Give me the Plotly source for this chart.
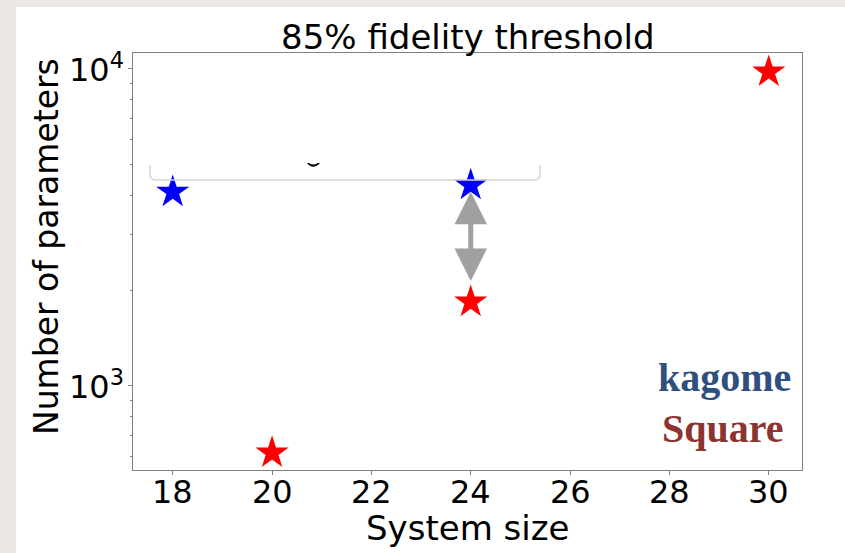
import plotly.graph_objects as go
import math

# ---- data ----
kagome_sizes = [18, 24]
kagome_params = [4090, 4300]
square_sizes = [20, 24, 30]
square_params = [615, 1840, 9790]
arrow_x = 24
arrow_top = 4100
arrow_bottom = 2120
x_ticks = [18, 20, 22, 24, 26, 28, 30]
y_ticks = [1000, 10000]
y_ticktext = ["10<sup>3</sup>", "10<sup>4</sup>"]
y_minor = [600, 700, 800, 900, 2000, 3000, 4000, 5000, 6000, 7000, 8000, 9000]

W, H = 845, 553
L, R, T, B = 133, 802, 53, 470
FS = 34
TFS = 32


def px(x):
    return (x - L) / (R - L)


def py(y):
    return (B - y) / (B - T)


fig = go.Figure()
fig.add_trace(go.Scatter(x=kagome_sizes, y=kagome_params, mode="markers",
                         marker=dict(symbol="star", size=25, color="#0000ff", line=dict(width=0)),
                         showlegend=False))
fig.add_trace(go.Scatter(x=square_sizes, y=square_params, mode="markers",
                         marker=dict(symbol="star", size=25, color="#ff0000", line=dict(width=0)),
                         showlegend=False))

shapes = []
# inner panel
shapes.append(dict(type="rect", xref="paper", yref="paper", x0=px(16), x1=px(900),
                   y0=py(600), y1=py(7), fillcolor="#ffffff", line=dict(width=0), layer="below"))
# partial legend frame
r = 6
path = (f"M{px(150)},{py(165)} L{px(150)},{py(180 - r)} "
        f"Q{px(150)},{py(180)} {px(150 + r)},{py(180)} "
        f"L{px(540 - r)},{py(180)} Q{px(540)},{py(180)} {px(540)},{py(180 - r)} "
        f"L{px(540)},{py(165)}")
shapes.append(dict(type="path", xref="paper", yref="paper", path=path,
                   line=dict(color="#d6d6d6", width=1.5)))
# glyph fragment (bottom of a cut-off letter)
frag = (f"M{px(307)},{py(163)} Q{px(313)},{py(170.5)} {px(320)},{py(163)} "
        f"L{px(318)},{py(163)} Q{px(313)},{py(166)} {px(309)},{py(163)} Z")
shapes.append(dict(type="path", xref="paper", yref="paper", path=frag,
                   fillcolor="#000000", line=dict(width=0)))

annotations = []
# double arrow
annotations.append(dict(x=arrow_x, y=math.log10(arrow_top), xref="x", yref="y",
                        ax=arrow_x, ay=math.log10(arrow_bottom), axref="x", ayref="y",
                        text="", showarrow=True, arrowside="end+start",
                        arrowhead=2, startarrowhead=2, arrowsize=1.3, startarrowsize=1.3,
                        arrowwidth=5, arrowcolor="#a0a0a0"))
# x tick labels
for v in x_ticks:
    annotations.append(dict(text=str(v), x=v, y=py(492), xref="x", yref="paper",
                            showarrow=False, font=dict(family="DejaVu Sans", size=TFS, color="#000000"),
                            xanchor="center", yanchor="middle"))
# y tick labels
for v, t in zip(y_ticks, y_ticktext):
    annotations.append(dict(text=t, x=px(126), y=math.log10(v), xref="paper", yref="y",
                            showarrow=False, font=dict(family="DejaVu Sans", size=TFS, color="#000000"),
                            xanchor="right", yanchor="middle", yshift=1))
annotations.append(dict(text="85% fidelity threshold", x=0.5, y=py(37), xref="paper", yref="paper",
                        showarrow=False, font=dict(family="DejaVu Sans", size=FS, color="#000000"),
                        xanchor="center", yanchor="middle"))
annotations.append(dict(text="Number of parameters", x=px(46), y=py(247), xref="paper", yref="paper",
                        showarrow=False, textangle=-90,
                        font=dict(family="DejaVu Sans", size=33, color="#000000"),
                        xanchor="center", yanchor="middle"))
annotations.append(dict(text="System size", x=0.5, y=py(528), xref="paper", yref="paper",
                        showarrow=False, font=dict(family="DejaVu Sans", size=FS, color="#000000"),
                        xanchor="center", yanchor="middle"))
annotations.append(dict(text="<b>kagome</b>", x=px(793), y=py(377), xref="paper", yref="paper",
                        showarrow=False, font=dict(family="Liberation Serif", size=40, color="#2f4f7f"),
                        xanchor="right", yanchor="middle"))
annotations.append(dict(text="<b>Square</b>", x=px(786), y=py(428), xref="paper", yref="paper",
                        showarrow=False, font=dict(family="Liberation Serif", size=40, color="#8c3530"),
                        xanchor="right", yanchor="middle"))

fig.update_layout(
    width=W, height=H,
    margin=dict(l=L, r=W - R, t=T, b=H - B),
    paper_bgcolor="#ebe8e3",
    plot_bgcolor="#ffffff",
    shapes=shapes,
    annotations=annotations,
    font=dict(family="DejaVu Sans", size=TFS, color="#000000"),
    xaxis=dict(range=[17.2, 30.67], tickvals=x_ticks, ticks="outside", ticklen=4,
               tickcolor="#808080", showline=True, linecolor="#808080", linewidth=1,
               mirror=True, showgrid=False, zeroline=False, showticklabels=False),
    yaxis=dict(type="log", range=[math.log10(543), math.log10(11230)], tickvals=y_ticks,
               ticks="outside", ticklen=4, tickcolor="#808080",
               showline=True, linecolor="#808080", linewidth=1, mirror=True,
               showgrid=False, zeroline=False, showticklabels=False,
               minor=dict(tickvals=y_minor, ticks="outside", ticklen=2, tickcolor="#808080")),
)

fig.write_html("out.html")
